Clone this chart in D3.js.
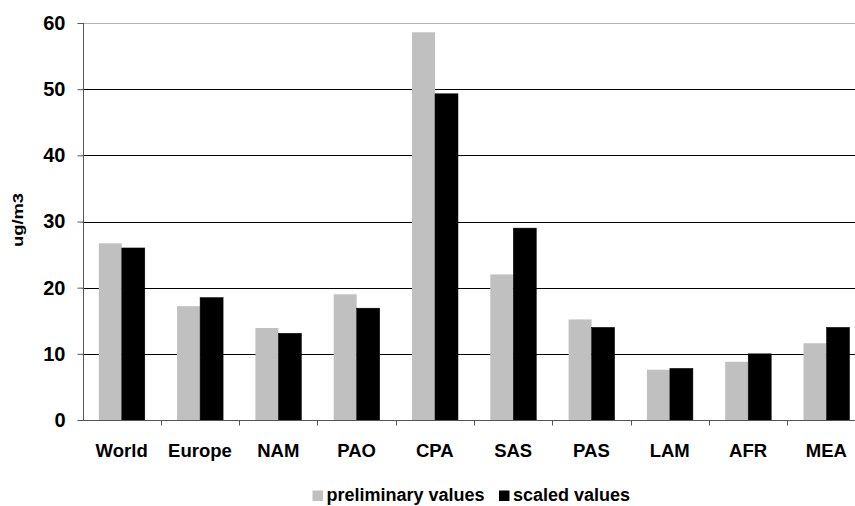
<!DOCTYPE html>
<html>
<head>
<meta charset="utf-8">
<script src="https://cdn.jsdelivr.net/npm/d3@7"></script>
<style>
  body { margin: 0; background: #fff; }
  svg { display: block; font-family: "Liberation Sans", Arial, sans-serif; font-weight: bold; }
</style>
</head>
<body>
<div id="chart"></div>
<script>
// regions and values
var regions = ["World", "Europe", "NAM", "PAO", "CPA", "SAS", "PAS", "LAM", "AFR", "MEA"];
var preliminary = [26.7, 17.2, 13.9, 19.0, 58.6, 22.0, 15.2, 7.6, 8.8, 11.6];
var scaled = [26.0, 18.5, 13.1, 16.9, 49.3, 29.0, 14.0, 7.8, 10.0, 14.0];
var seriesNames = ["preliminary values", "scaled values"];
var seriesColors = ["#c0c0c0", "#000000"];
var yTicks = [0, 10, 20, 30, 40, 50, 60];

var width = 855, height = 506;
var plotLeft = 82.5, step = 78.3, plotTop = 23, plotBottom = 420;

var svg = d3.select("#chart").append("svg")
    .attr("width", width)
    .attr("height", height);

var x = d3.scaleBand()
    .domain(regions)
    .range([plotLeft, plotLeft + step * regions.length])
    .padding(0);

var xs = d3.scaleBand()
    .domain(seriesNames)
    .range([16.3, 16.3 + 46])
    .padding(0);

var y = d3.scaleLinear()
    .domain([0, 60])
    .range([plotBottom, plotTop]);

// gridlines
svg.append("g")
  .selectAll("line")
  .data(yTicks.filter(d => d > 0))
  .join("line")
    .attr("x1", plotLeft)
    .attr("x2", width)
    .attr("y1", d => Math.round(y(d)) + 0.5)
    .attr("y2", d => Math.round(y(d)) + 0.5)
    .attr("stroke", d => d == 60 ? "#b4b4b4" : "#000")
    .attr("stroke-width", 1);

// bars
var data = regions.map((r, i) => ({region: r, values: [preliminary[i], scaled[i]]}));

var groups = svg.append("g")
  .selectAll("g")
  .data(data)
  .join("g")
    .attr("transform", d => "translate(" + x(d.region) + ",0)");

groups.selectAll("rect")
  .data(d => d.values.map((v, i) => ({name: seriesNames[i], value: v, idx: i})))
  .join("rect")
    .attr("x", d => xs(d.name))
    .attr("y", d => y(d.value))
    .attr("width", xs.bandwidth())
    .attr("height", d => y(0) - y(d.value))
    .attr("fill", d => seriesColors[d.idx])
    .attr("stroke", d => d.idx == 1 ? "#000" : "none")
    .attr("stroke-width", 0.5);

// y axis
var yAxis = svg.append("g")
    .attr("transform", "translate(" + (Math.round(plotLeft) + 0.5) + ",0)")
    .call(d3.axisLeft(y).tickValues(yTicks).tickSize(6).tickPadding(12));
yAxis.select(".domain").attr("stroke", "#555").attr("d", "M0," + y(60) + "V" + y(0));
yAxis.selectAll(".tick line").attr("stroke", "#555");
yAxis.selectAll(".tick text")
    .attr("fill", "#000")
    .style("font-size", "20px")
    .style("font-weight", "bold")
    .style("font-family", "'Liberation Sans', Arial, sans-serif");

// x axis
var xAxis = svg.append("g")
    .attr("transform", "translate(0," + (plotBottom + 0.5) + ")");
xAxis.append("line")
    .attr("x1", plotLeft)
    .attr("x2", width)
    .attr("stroke", "#555");
xAxis.selectAll(".xtick")
  .data(regions)
  .join("line")
    .attr("class", "xtick")
    .attr("x1", d => Math.round(x(d) + x.bandwidth()) + 0.5)
    .attr("x2", d => Math.round(x(d) + x.bandwidth()) + 0.5)
    .attr("y1", 0)
    .attr("y2", 5)
    .attr("stroke", "#555");
xAxis.selectAll("text")
  .data(regions)
  .join("text")
    .attr("x", d => x(d) + x.bandwidth() / 2)
    .attr("y", 36)
    .attr("text-anchor", "middle")
    .style("font-size", "18.5px")
    .text(d => d);

// y title
svg.append("text")
    .attr("transform", "translate(23,220) rotate(-90)")
    .attr("text-anchor", "middle")
    .attr("textLength", 54)
    .attr("lengthAdjust", "spacingAndGlyphs")
    .style("font-size", "14px")
    .text("ug/m3");

// legend
var legend = svg.append("g")
    .attr("transform", "translate(312.5,490.5)");
var items = legend.selectAll("g")
  .data(seriesNames)
  .join("g")
    .attr("transform", (d, i) => "translate(" + (i == 0 ? 0 : 186.5) + ",0)");
items.append("rect")
    .attr("width", 10.5)
    .attr("height", 10.5)
    .attr("fill", (d, i) => seriesColors[i]);
items.append("text")
    .attr("x", 14)
    .attr("y", 10.5)
    .style("font-size", "18px")
    .text(d => d);
</script>
</body>
</html>
